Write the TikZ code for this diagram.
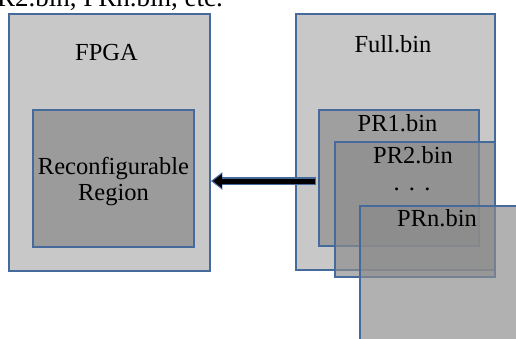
\documentclass[tikz,border=0pt]{standalone}
\usepackage{fontspec}
\setmainfont{Liberation Serif}
\usetikzlibrary{arrows.meta}
\definecolor{bord}{RGB}{70,106,155}
\definecolor{lightbox}{RGB}{200,200,200}
\definecolor{midbox}{RGB}{155,155,155}
\definecolor{prfill}{RGB}{140,140,140}
\tikzset{
  box/.style={draw=bord, line width=1.8pt, rectangle, inner sep=0pt},
  outerbox/.style={box, fill=lightbox},
  innerbox/.style={box, fill=midbox},
  prbox/.style={box, fill=prfill, fill opacity=0.68, minimum width=160pt, minimum height=135pt},
  lbl/.style={anchor=base, inner sep=0pt, font=\fontsize{24.5}{27}\selectfont, text=black},
}
\begin{document}
\begin{tikzpicture}[x=1pt,y=-1pt]
\useasboundingbox (0,0) rectangle (516,338);
\clip (0,0) rectangle (516,338);
\node[anchor=base east, inner sep=0pt, font=\fontsize{27}{30}\selectfont] (cap) at (223,6) {PR2.bin, PRn.bin, etc.};
% FPGA side
\node[outerbox, minimum width=201pt, minimum height=257pt] (fpga) at (109.5,142.5) {};
\node[lbl] (fpgat) at (106.5,60) {FPGA};
\node[innerbox, minimum width=161pt, minimum height=137pt] (rr) at (113.5,178.5) {};
\node[lbl] (rrt1) at (113.5,174) {Reconfigurable};
\node[lbl] (rrt2) at (113.5,200.5) {Region};
% bitstreams
\node[outerbox, minimum width=199pt, minimum height=256pt] (full) at (395.5,142) {};
\node[lbl] (fullt) at (393,52) {Full.bin};
\coordinate (src) at (316,181);
\draw[bord, line width=7.5pt, -{Triangle[length=11.5pt,width=17pt]}] (src) -- (fpga.east |- src);
\draw[black, line width=5pt, -{Triangle[length=9pt,width=13pt]}] ([xshift=-1pt]src) -- ([xshift=2pt]fpga.east |- src);
\node[prbox, minimum width=160pt, minimum height=136pt] (pr1) at (399,178) {};
\node[lbl] (pr1t) at (397.5,131.5) {PR1.bin};
\node[prbox] (pr2) at (415,209.5) {};
\node[lbl] (pr2t) at (413,163) {PR2.bin};
\node[lbl] (dots) at (412,190) {.\hspace{0.38em}.\hspace{0.38em}.};
\node[prbox] (prn) at (440,273.5) {};
\node[lbl] (prnt) at (437,226) {PRn.bin};
\end{tikzpicture}
\end{document}
